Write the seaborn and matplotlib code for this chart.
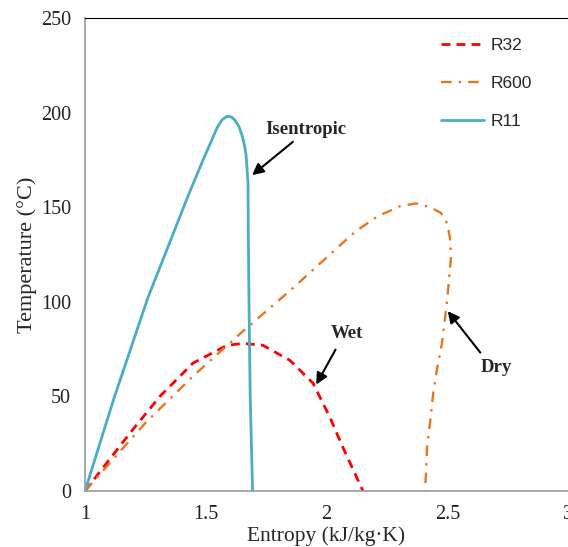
import matplotlib
matplotlib.use("Agg")
import matplotlib.pyplot as plt
import seaborn as sns
import pandas as pd

# ---- data ----
r32_s = [1.0, 1.186, 1.31, 1.447, 1.588, 1.655, 1.737, 1.849, 1.944, 2.014, 2.068, 2.151]
r32_t = [0, 30.6, 50, 67.6, 77, 78, 77, 69, 57, 39, 23, 0]

r600_s = [1.0, 1.25, 1.45, 1.65, 1.85, 2.027, 2.118, 2.209, 2.304, 2.371, 2.429, 2.474,
          2.499, 2.511, 2.516, 2.507, 2.499, 2.478, 2.457, 2.441, 2.429, 2.416, 2.412, 2.408]
r600_t = [0, 36, 61, 84, 106, 126.5, 137, 145, 150.5, 152, 150, 147,
          141.6, 134, 124, 111.5, 100, 78, 64, 50.7, 36.5, 23, 9.5, 0]

r11_s = [1.0, 1.12, 1.26, 1.427, 1.489, 1.547, 1.568, 1.588, 1.605, 1.621, 1.638, 1.650,
         1.660, 1.667, 1.675, 1.676, 1.679, 1.684, 1.694]
r11_t = [0, 49, 102, 156, 175, 192, 196.3, 198, 197.8, 196, 192.5, 188,
         183, 177.6, 163, 140, 100, 50, 0]

series_names = ["R32", "R600", "R11"]
x_ticks = [1, 1.5, 2, 2.5, 3]
x_tick_labels = ["1", "1.5", "2", "2.5", "3"]
y_ticks = [0, 50, 100, 150, 200, 250]

sns.set_style("white")
plt.rcParams["font.family"] = ["Liberation Serif", "DejaVu Serif"]

fig = plt.figure(figsize=(5.68, 5.47), dpi=100)
ax = fig.add_axes([85 / 568, 1 - 491 / 547, (568 - 85) / 568, (491 - 18) / 547])

df32 = pd.DataFrame({"s": r32_s, "t": r32_t})
df600 = pd.DataFrame({"s": r600_s, "t": r600_t})
df11 = pd.DataFrame({"s": r11_s, "t": r11_t})

sns.lineplot(data=df32, x="s", y="t", sort=False, estimator=None, ax=ax, color="#FF0000",
             linewidth=2.0, linestyle=(0, (3.2, 2.2)), label=series_names[0])
sns.lineplot(data=df600, x="s", y="t", sort=False, estimator=None, ax=ax, color="#E8761E",
             linewidth=1.7, linestyle=(0, (4.5, 3.0, 1.0, 3.0)), label=series_names[1])
sns.lineplot(data=df11, x="s", y="t", sort=False, estimator=None, ax=ax, color="#4BACC6",
             linewidth=2.0, linestyle="-", label=series_names[2])

ax.set_xlim(1, 3)
ax.set_ylim(0, 250)
ax.set_xticks(x_ticks)
ax.set_xticklabels(x_tick_labels)
ax.set_yticks(y_ticks)
ax.tick_params(axis="both", labelsize=14.5, colors="#222222")
ax.tick_params(axis="x", direction="out", length=4, width=1, color="#999999", pad=6)
ax.tick_params(axis="y", direction="out", length=6, width=1, color="#999999", pad=4)

ax.set_xlabel("Entropy (kJ/kg·K)", fontsize=15.5, labelpad=2)
ax.set_ylabel("Temperature (°C)", fontsize=16, labelpad=3)

for side in ["left", "bottom"]:
    ax.spines[side].set_color("#999999")
    ax.spines[side].set_linewidth(1.2)
ax.spines["top"].set_color("black")
ax.spines["top"].set_linewidth(0.8)
ax.spines["right"].set_visible(False)

leg = ax.legend(loc="upper left", bbox_to_anchor=(441 / 568, 1 - 38 / 547),
                bbox_transform=fig.transFigure, frameon=False, borderpad=0,
                borderaxespad=0, handlelength=2.5, handletextpad=0.35,
                labelspacing=1.3, prop={"family": "Liberation Sans", "size": 12.5})

arrow = dict(arrowstyle="-|>", color="black", lw=1.5, mutation_scale=17)
ax.annotate("", xy=(1.683, 166), xytext=(1.870, 185.5), arrowprops=arrow)
ax.text(1.913, 191, "Isentropic", ha="center", va="center", fontsize=13.5, fontweight="bold")
ax.annotate("", xy=(1.952, 55), xytext=(2.043, 76), arrowprops=arrow)
ax.text(2.085, 83.5, "Wet", ha="center", va="center", fontsize=13.5, fontweight="bold")
ax.annotate("", xy=(2.495, 96.2), xytext=(2.644, 72), arrowprops=arrow)
ax.text(2.702, 65.5, "Dry", ha="center", va="center", fontsize=13.5, fontweight="bold")

fig.savefig("out.png", dpi=100)
